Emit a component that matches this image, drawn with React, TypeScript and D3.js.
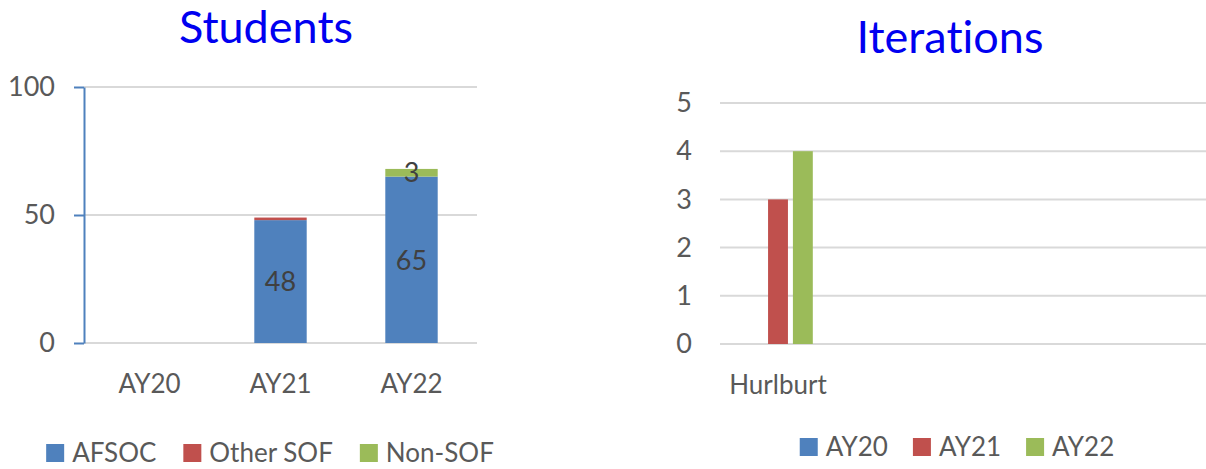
import { useEffect, useRef } from "react";
import * as d3 from "d3";

// Students chart (stacked)
const years = ["AY20", "AY21", "AY22"];
const studentGroups = ["AFSOC", "Other SOF", "Non-SOF"];
const afsoc = [0, 48, 65];
const otherSof = [0, 1, 0];
const nonSof = [0, 0, 3];
const studentTicks = [0, 50, 100];

// Iterations chart (grouped)
const sites = ["Hurlburt", "site2", "site3", "site4"];
const siteLabels = ["Hurlburt", "", "", ""];
const iterSeries = ["AY20", "AY21", "AY22"];
const iterAY20 = [0, 0, 0, 0];
const iterAY21 = [3, 0, 0, 0];
const iterAY22 = [4, 0, 0, 0];
const iterTicks = [0, 1, 2, 3, 4, 5];

const colors = ["#4f81bd", "#c0504d", "#9bbb59"];
const font = "Lato, 'Open Sans', sans-serif";
const W = 1206;
const H = 469;

function legend(
  svg: d3.Selection<SVGSVGElement, unknown, null, undefined>,
  labels: string[],
  cx: number,
  baseline: number,
  size: number,
  gap: number
) {
  const g = svg.append("g");
  const items = labels.map((l, i) => {
    const it = g.append("g");
    it.append("rect")
      .attr("width", 18)
      .attr("height", 18)
      .attr("y", baseline - 18)
      .attr("fill", colors[i]);
    const t = it
      .append("text")
      .attr("x", 26)
      .attr("y", baseline)
      .attr("font-size", size)
      .attr("fill", "#595959")
      .text(l);
    const w = 26 + ((t.node() as SVGTextElement).getComputedTextLength() || l.length * size * 0.6);
    return { it, w };
  });
  const total = d3.sum(items, (d) => d.w) + gap * (items.length - 1);
  let x = cx - total / 2;
  items.forEach((d) => {
    d.it.attr("transform", `translate(${x},0)`);
    x += d.w + gap;
  });
}

export default function App() {
  const ref = useRef<SVGSVGElement | null>(null);

  useEffect(() => {
    if (!ref.current) return;
    const svg = d3.select(ref.current);
    svg.selectAll("*").remove();
    svg.attr("font-family", font).style("font-variant-ligatures", "none");

    // ---------- Students ----------
    const x = d3.scaleBand().domain(years).range([84, 477]).paddingInner(0.6).paddingOuter(0.3);
    const y = d3.scaleLinear().domain([0, 100]).range([343, 87]);

    svg.append("g")
      .selectAll("line")
      .data(studentTicks)
      .join("line")
      .attr("x1", 84)
      .attr("x2", 477)
      .attr("y1", (d) => y(d))
      .attr("y2", (d) => y(d))
      .attr("stroke", "#d9d9d9")
      .attr("stroke-width", 2);

    const rows = years.map((yr, i) => ({ year: yr, AFSOC: afsoc[i], "Other SOF": otherSof[i], "Non-SOF": nonSof[i] }));
    const stack = d3.stack<any>().keys(studentGroups)(rows);

    stack.forEach((layer, li) => {
      svg.append("g")
        .selectAll("rect")
        .data(layer)
        .join("rect")
        .attr("x", (d) => x(d.data.year)!)
        .attr("width", x.bandwidth())
        .attr("y", (d) => y(d[1]))
        .attr("height", (d) => y(d[0]) - y(d[1]))
        .attr("fill", colors[li]);

      svg.append("g")
        .selectAll("text")
        .data(layer.filter((d) => d[1] - d[0] >= 2))
        .join("text")
        .attr("x", (d) => x(d.data.year)! + x.bandwidth() / 2)
        .attr("y", (d) => y((d[0] + d[1]) / 2))
        .attr("dy", "0.36em")
        .attr("text-anchor", "middle")
        .attr("font-size", 27)
        .attr("fill", "#404040")
        .text((d) => d[1] - d[0]);
    });

    const ax = svg
      .append("g")
      .attr("transform", "translate(84,0)")
      .call(d3.axisLeft(y).tickValues(studentTicks).tickSize(10).tickSizeOuter(0).tickPadding(19));
    ax.select(".domain").attr("stroke", "#4f81bd").attr("stroke-width", 2);
    ax.selectAll(".tick line").attr("stroke", "#4f81bd").attr("stroke-width", 2);
    ax.selectAll(".tick text").attr("font-size", 27).attr("fill", "#595959").attr("font-family", font);

    svg.append("g")
      .selectAll("text")
      .data(years)
      .join("text")
      .attr("x", (d) => x(d)! + x.bandwidth() / 2)
      .attr("y", 393)
      .attr("text-anchor", "middle")
      .attr("font-size", 26)
      .attr("fill", "#595959")
      .text((d) => d);

    svg.append("text")
      .attr("x", 266)
      .attr("y", 43)
      .attr("text-anchor", "middle")
      .attr("font-size", 45)
      .attr("fill", "#0000f0")
      .text("Students");

    legend(svg, studentGroups, 270, 462, 26, 27);

    // ---------- Iterations ----------
    const x0 = d3.scaleBand().domain(sites).range([720, 1184]).paddingInner(0.4).paddingOuter(0.2);
    const x1 = d3.scaleBand().domain(iterSeries).range([0, x0.bandwidth()]).paddingInner(0.2);
    const y2 = d3.scaleLinear().domain([0, 5]).range([344, 103]);

    svg.append("g")
      .selectAll("line")
      .data(iterTicks)
      .join("line")
      .attr("x1", 720)
      .attr("x2", W)
      .attr("y1", (d) => y2(d))
      .attr("y2", (d) => y2(d))
      .attr("stroke", "#d9d9d9")
      .attr("stroke-width", 2);

    const iterValues = [iterAY20, iterAY21, iterAY22];
    iterSeries.forEach((s, si) => {
      svg.append("g")
        .selectAll("rect")
        .data(sites.map((site, i) => ({ site, v: iterValues[si][i] })))
        .join("rect")
        .attr("x", (d) => x0(d.site)! + x1(s)!)
        .attr("width", x1.bandwidth())
        .attr("y", (d) => y2(d.v))
        .attr("height", (d) => y2(0) - y2(d.v))
        .attr("fill", colors[si]);
    });

    const ay = svg
      .append("g")
      .attr("transform", "translate(720,0)")
      .call(d3.axisLeft(y2).tickValues(iterTicks).tickFormat(d3.format("d")).tickSize(0).tickPadding(28));
    ay.select(".domain").remove();
    ay.selectAll(".tick text").attr("font-size", 27).attr("fill", "#595959").attr("font-family", font);

    svg.append("g")
      .selectAll("text")
      .data(sites)
      .join("text")
      .attr("x", (d) => x0(d)! + x0.bandwidth() / 2)
      .attr("y", 394)
      .attr("text-anchor", "middle")
      .attr("font-size", 26)
      .attr("fill", "#595959")
      .text((d, i) => siteLabels[i]);

    svg.append("text")
      .attr("x", 950)
      .attr("y", 53)
      .attr("text-anchor", "middle")
      .attr("font-size", 45)
      .attr("fill", "#0000f0")
      .text("Iterations");

    legend(svg, iterSeries, 957, 456, 26, 25);
  }, []);

  return (
    <svg
      ref={ref}
      width={W}
      height={H}
      style={{ position: "absolute", left: 0, top: 0, background: "#fff" }}
      role="img"
      aria-label="Students and Iterations charts"
    />
  );
}
